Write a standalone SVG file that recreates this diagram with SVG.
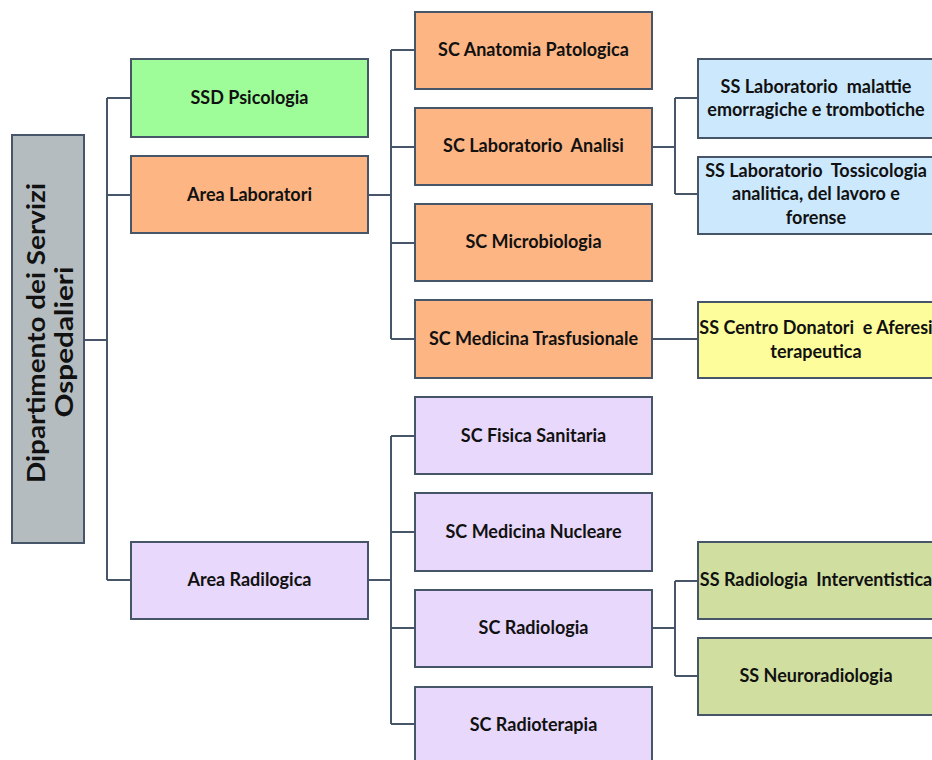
<svg xmlns="http://www.w3.org/2000/svg" width="932" height="760" viewBox="0 0 932 760">
<style>
.b{stroke:#475569;stroke-width:2}
.t{font-family:Lato,"Liberation Sans",sans-serif;font-weight:bold;font-size:18px;fill:#111;text-anchor:middle}
.c{fill:none;stroke:#475569;stroke-width:2}
</style>
<rect width="932" height="760" fill="#fff"/>
<g id="connectors">
<path class="c" d="M84 340H107M107 98V580M107 98H131M107 195H131M107 580H131"/>
<path class="c" d="M368 195H391M391 50V339M391 50H415M391 147H415M391 243H415M391 339H415"/>
<path class="c" d="M368 580H391M391 436V724M391 436H415M391 532H415M391 628H415M391 724H415"/>
<path class="c" d="M652 147H675M675 98V194M675 98H698M675 194H698"/>
<path class="c" d="M652 339H698"/>
<path class="c" d="M652 628H675M675 581V676M675 581H698M675 676H698"/>
</g>
<g id="root">
<rect class="b" x="12" y="135" width="72" height="408" fill="#b4bcc0"/>
<text class="t" style="font-size:25px" textLength="300" lengthAdjust="spacingAndGlyphs" transform="translate(45 333) rotate(-90)">Dipartimento dei Servizi</text>
<text class="t" style="font-size:25px" textLength="151" lengthAdjust="spacingAndGlyphs" transform="translate(73 342) rotate(-90)">Ospedalieri</text>
</g>
<g id="ssd-psicologia"><rect class="b" x="131" y="59" width="237" height="78" fill="#9efd99"/><text class="t" x="249.5" y="104">SSD Psicologia</text></g>
<g id="area-laboratori"><rect class="b" x="131" y="156" width="237" height="77" fill="#fdb583"/><text class="t" x="249.5" y="201">Area Laboratori</text></g>
<g id="area-radiologica"><rect class="b" x="131" y="542" width="237" height="77" fill="#e8d8fb"/><text class="t" x="249.5" y="586">Area Radilogica</text></g>
<g id="sc-anatomia"><rect class="b" x="415" y="12" width="237" height="77" fill="#fdb583"/><text class="t" x="533.5" y="56">SC Anatomia Patologica</text></g>
<g id="sc-lab-analisi"><rect class="b" x="415" y="108" width="237" height="77" fill="#fdb583"/><text class="t" x="533.5" y="152" xml:space="preserve">SC Laboratorio  Analisi</text></g>
<g id="sc-microbiologia"><rect class="b" x="415" y="204" width="237" height="77" fill="#fdb583"/><text class="t" x="533.5" y="248">SC Microbiologia</text></g>
<g id="sc-medicina-trasf"><rect class="b" x="415" y="300" width="237" height="78" fill="#fdb583"/><text class="t" x="533.5" y="345">SC Medicina Trasfusionale</text></g>
<g id="sc-fisica"><rect class="b" x="415" y="397" width="237" height="77" fill="#e8d8fb"/><text class="t" x="533.5" y="442">SC Fisica Sanitaria</text></g>
<g id="sc-med-nucleare"><rect class="b" x="415" y="493" width="237" height="78" fill="#e8d8fb"/><text class="t" x="533.5" y="538">SC Medicina Nucleare</text></g>
<g id="sc-radiologia"><rect class="b" x="415" y="590" width="237" height="77" fill="#e8d8fb"/><text class="t" x="533.5" y="634">SC Radiologia</text></g>
<g id="sc-radioterapia"><rect class="b" x="415" y="687" width="237" height="80" fill="#e8d8fb"/><text class="t" x="533.5" y="731">SC Radioterapia</text></g>
<g id="ss-lab-malattie"><rect class="b" x="698" y="59" width="237" height="79" fill="#cce8fd"/><text class="t" x="816" y="93" xml:space="preserve">SS Laboratorio  malattie</text><text class="t" x="816" y="116">emorragiche e trombotiche</text></g>
<g id="ss-lab-tossicologia"><rect class="b" x="698" y="157" width="237" height="77" fill="#cce8fd"/><text class="t" x="816" y="177" xml:space="preserve">SS Laboratorio  Tossicologia</text><text class="t" x="816" y="200">analitica, del lavoro e</text><text class="t" x="816" y="224">forense</text></g>
<g id="ss-centro-donatori"><rect class="b" x="698" y="302" width="237" height="76" fill="#fdfd9b"/><text class="t" x="816" y="334" xml:space="preserve">SS Centro Donatori  e Aferesi</text><text class="t" x="816" y="358">terapeutica</text></g>
<g id="ss-radiologia-interv"><rect class="b" x="698" y="542" width="237" height="77" fill="#d0de9f"/><text class="t" x="816" y="586" xml:space="preserve">SS Radiologia  Interventistica</text></g>
<g id="ss-neuroradiologia"><rect class="b" x="698" y="638" width="237" height="77" fill="#d0de9f"/><text class="t" x="816" y="682">SS Neuroradiologia</text></g>
</svg>
